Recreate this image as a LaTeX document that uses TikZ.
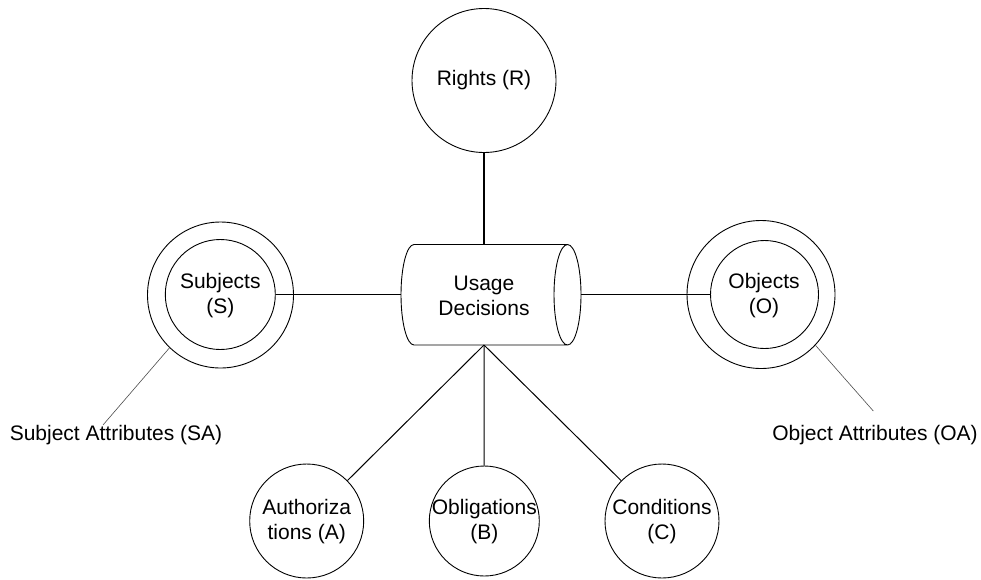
\documentclass[tikz,border=0pt]{standalone}
\usepackage{fontspec}
\setmainfont{Liberation Sans}
\begin{document}
\begin{tikzpicture}[x=1pt,y=-1pt,
  txt/.style={font=\fontsize{21}{25}\selectfont, align=center, inner sep=0pt},
  lbl/.style={font=\fontsize{21}{25}\selectfont, inner sep=0pt, anchor=base},
  circ/.style={circle, draw, line width=0.9pt, inner sep=0pt, minimum size=#1},
  mainline/.style={line width=1.6pt},
  subline/.style={line width=1pt},
  attrline/.style={line width=0.6pt, black!70}]
\useasboundingbox (0,0) rectangle (981,579);

% Usage Decisions cylinder
\draw[line width=0.9pt] (414,244.5) -- (567.5,244.5) (414,345) -- (567.5,345)
  (414,244.5) arc[start angle=270, end angle=90, x radius=13, y radius=50.25]
  (567.5,294.75) ellipse[x radius=13.5, y radius=50.25];
\node[txt] (UD) at (484,296) {Usage\\Decisions};
\coordinate (UDn) at (484,244.5);
\coordinate (UDw) at (401,294.5);
\coordinate (UDe) at (581,294.5);
\coordinate (UDs) at (484,345);

% circles
\node[circ=144] (R) at (484,80.5) {};
\node[txt] (Rt) at (484,80.5) {Rights (R)};
\node[circ=146] (So) at (220.5,295) {};
\node[circ=110] (S) at (220.3,294.5) {};
\node[txt] (St) at (220.3,295.5) {Subjects\\(S)};
\node[circ=148] (Oo) at (761,294.5) {};
\node[circ=108] (O) at (764.5,294.5) {};
\node[txt] (Ot) at (764,295.5) {Objects\\(O)};
\node[circ=114] (A) at (306.7,521) {};
\node[txt] (At) at (306.7,522) {Authoriza\\tions (A)};
\node[circ=110] (B) at (484.3,521) {};
\node[txt] (Bt) at (484.3,522) {Obligations\\(B)};
\node[circ=114] (C) at (662,521) {};
\node[txt] (Ct) at (662,522) {Conditions\\(C)};

% attribute labels
\node[lbl] (SA) at (116,440) {Subject Attributes (SA)};
\node[lbl] (OA) at (875,440) {Object Attributes (OA)};
\coordinate (SAe) at (103,425);
\coordinate (OAe) at (873.3,411);

% connectors
\draw[mainline] (R) -- (UDn);
\draw[mainline] (S) -- (UDw);
\draw[mainline] (UDe) -- (O);
\draw[subline] (UDs) -- (A);
\draw[subline] (UDs) -- (B);
\draw[subline] (UDs) -- (C);
\draw[attrline] (So.226) -- (SAe);
\draw[attrline] (Oo.317) -- (OAe);
\end{tikzpicture}
\end{document}
